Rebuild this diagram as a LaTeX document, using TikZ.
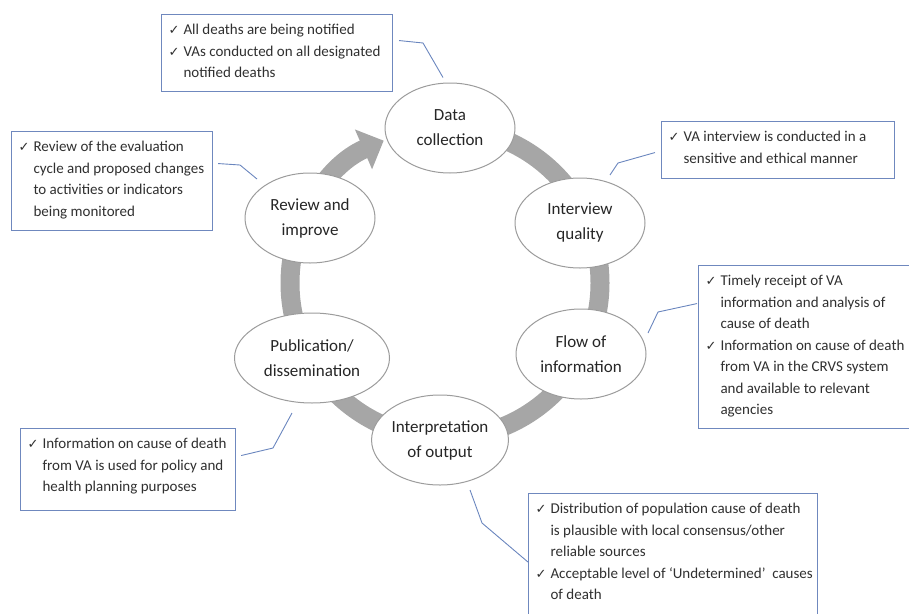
\documentclass[tikz,border=0pt]{standalone}
\usepackage{fontspec}
\setmainfont{Carlito}
\newfontfamily\chkfont{DejaVu Sans}
\usetikzlibrary{shapes.geometric,arrows.meta,calc}
\definecolor{ringgray}{HTML}{A6A6A6}
\definecolor{ellgray}{HTML}{9C9C9C}
\definecolor{boxblue}{HTML}{6F88BE}
\definecolor{connblue}{HTML}{6A86BE}
\definecolor{txt}{HTML}{303030}
\newcommand{\Lchk}[1]{\par\noindent\strut\makebox[22pt][l]{\hspace{7pt}{\chkfont\fontsize{13}{14}\selectfont ✓}}\mbox{#1}}
\newcommand{\Lcont}[1]{\par\noindent\strut\hspace*{22pt}\mbox{#1}}
\newcommand{\BoxText}[3]{\begin{minipage}[c][#2pt][t]{#1pt}\fontsize{15}{21.5}\selectfont\color{txt}\vspace*{5pt}#3\end{minipage}}
\tikzset{
  ring/.style={draw=ringgray, line width=19pt, -{Triangle[width=42pt,length=22pt]}},
  ell/.style={ellipse, draw=ellgray, fill=white, line width=1pt, minimum width=130pt,
    minimum height=90pt, inner sep=0pt, align=center, text=black!85,
    font=\fontsize{17}{25}\selectfont},
  infobox/.style={draw=boxblue, line width=1.1pt, inner sep=0pt, anchor=north west, fill=white},
  conn/.style={draw=connblue, line width=0.9pt}
}
\begin{document}
\begin{tikzpicture}[x=1pt,y=-1pt]
\useasboundingbox (0,0) rectangle (909,613);
\clip (0,0) rectangle (909,613);
% cycle ring with arrow
\draw[ring] (445,283) ++(90:155pt) arc[start angle=90, end angle=-246.7, radius=155pt];
% stages
\node[ell] (data) at (450,128) {Data\\collection};
\node[ell] (interview) at (580,223) {Interview\\quality};
\node[ell] (flow) at (581,354) {Flow of\\information};
\node[ell] (interp) at (440,440) {Interpretation\\of output};
\node[ell, minimum width=155pt] (pub) at (312,358) {Publication/\\dissemination};
\node[ell] (review) at (310,218) {Review and\\improve};
% boxes
\node[infobox] (b1) at (161,14) {\BoxText{231}{77}{%
  \Lchk{All deaths are being notified}
  \Lchk{VAs conducted on all designated}
  \Lcont{notified deaths}}};
\node[infobox] (b2) at (11,131) {\BoxText{201}{99}{%
  \Lchk{Review of the evaluation}
  \Lcont{cycle and proposed changes}
  \Lcont{to activities or indicators}
  \Lcont{being monitored}}};
\node[infobox] (b3) at (661,121) {\BoxText{233}{57}{%
  \Lchk{VA interview is conducted in a}
  \Lcont{sensitive and ethical manner}}};
\node[infobox] (b4) at (698,265) {\BoxText{230}{163}{%
  \Lchk{Timely receipt of VA}
  \Lcont{information and analysis of}
  \Lcont{cause of death}
  \Lchk{Information on cause of death}
  \Lcont{from VA in the CRVS system}
  \Lcont{and available to relevant}
  \Lcont{agencies}}};
\node[infobox] (b5) at (20,428) {\BoxText{215}{82}{%
  \Lchk{Information on cause of death}
  \Lcont{from VA is used for policy and}
  \Lcont{health planning purposes}}};
\node[infobox] (b6) at (528,493) {\BoxText{289}{130}{%
  \Lchk{Distribution of population cause of death}
  \Lcont{is plausible with local consensus/other}
  \Lcont{reliable sources}
  \Lchk{Acceptable level of ‘Undetermined’\ \ causes}
  \Lcont{of death}}};
% connectors
\draw[conn] ($(b1.east)+(6,-12.5)$) -- (423,43) -- ($(data.north)+(-7,-5)$);
\draw[conn] ($(b2.east)+(5,-17.5)$) -- (240,165) -- ($(review.center)+(-53,-39)$);
\draw[conn] ($(b3.west)+(-6,2.5)$) -- (618,163) -- ($(interview.center)+(30,-48)$);
\draw[conn] ($(b4.west)+(-1,-43.5)$) -- (658,312) -- ($(flow.center)+(67,-21)$);
\draw[conn] ($(b5.east)+(5,-14)$) -- (273,448) -- ($(pub.center)+(-20,55)$);
\draw[conn] ($(b6.west)+(0,3.5)$) -- (482,523) -- ($(interp.center)+(30,50)$);
\end{tikzpicture}
\end{document}
